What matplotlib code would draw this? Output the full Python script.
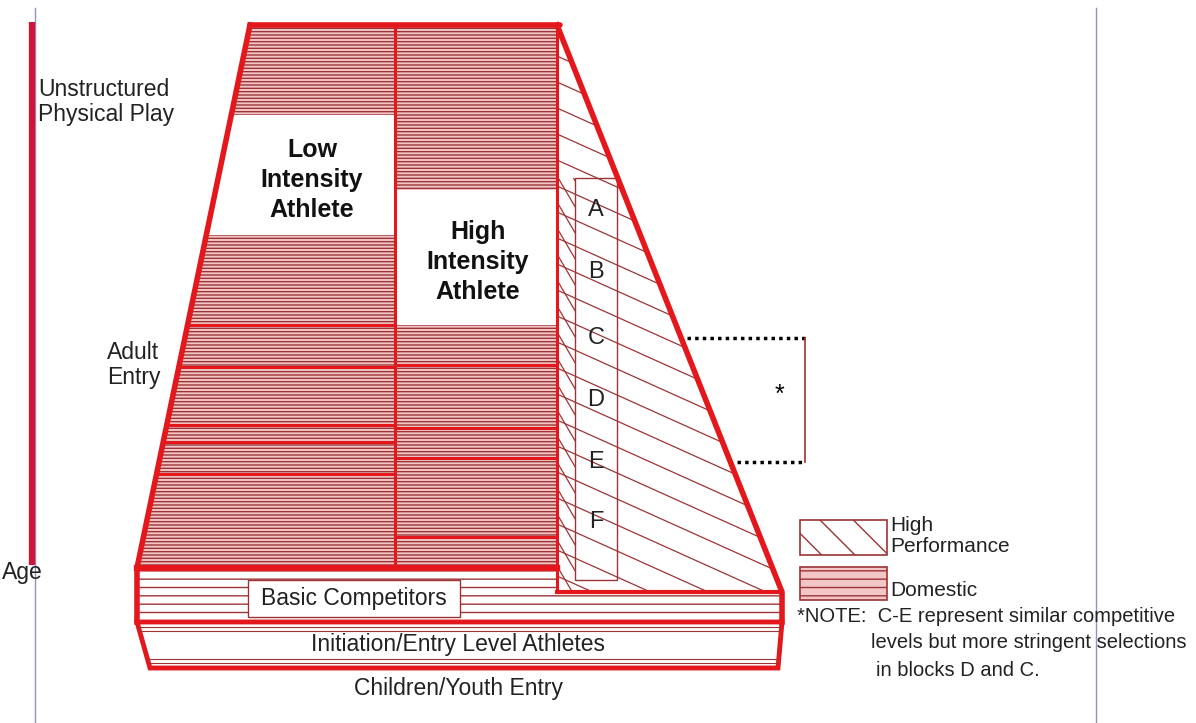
import matplotlib
matplotlib.use("Agg")
import matplotlib.pyplot as plt
from matplotlib.patches import Polygon, Rectangle

plt.rcParams['font.family'] = ['Liberation Sans', 'DejaVu Sans']
plt.rcParams['hatch.linewidth'] = 1.0

# labels of the diagram
side_labels = ["Unstructured\nPhysical Play", "Adult\nEntry", "Age"]
athlete_labels = ["Low\nIntensity\nAthlete", "High\nIntensity\nAthlete"]
grades = ["A", "B", "C", "D", "E", "F"]
tier_labels = ["Basic Competitors", "Initiation/Entry Level Athletes", "Children/Youth Entry"]
legend_labels = ["High\nPerformance", "Domestic"]
note_lines = ["*NOTE:  C-E represent similar competitive",
              "levels but more stringent selections",
              "in blocks D and C."]

RED = '#e3171c'
DARK = '#9c3436'
PINK = '#f2c6c6'
AXIS = '#8f93c4'

fig = plt.figure(figsize=(11.96, 7.23), dpi=100)
ax = fig.add_axes([0, 0, 1, 1])
ax.set_xlim(0, 1196)
ax.set_ylim(723, 0)
ax.axis('off')


def xl(y):
    # left slanted edge of the pyramid
    return 250 - 113 * (y - 25) / 543


# thin guide lines
ax.plot([35, 35], [8, 723], color=AXIS, lw=1)
ax.plot([1096, 1096], [8, 723], color=AXIS, lw=1)
ax.plot([32, 32], [22, 565], color='#d3123a', lw=4.5, solid_capstyle='butt')

# domestic block (horizontal hatch)
dom = Polygon([(250, 25), (557, 25), (557, 568), (137, 568)], closed=True,
              facecolor=PINK, edgecolor=DARK, lw=0, hatch='-----')
ax.add_patch(dom)

# white boxes for the athlete labels
ax.add_patch(Polygon([(xl(115), 115), (395, 115), (395, 235), (xl(235), 235)],
                     facecolor='white', edgecolor='none'))
ax.add_patch(Rectangle((395, 190), 162, 135, facecolor='white', edgecolor='none'))

# thicker red bands inside the domestic block
for y in [325, 367, 425, 442, 474]:
    ax.plot([xl(y), 395], [y, y], color=RED, lw=2.2)
for y in [365, 428, 458, 537]:
    ax.plot([395, 557], [y, y], color=RED, lw=2.2)

# high performance triangle (diagonal lines)
hp = Polygon([(557, 25), (782, 592), (557, 592)], closed=True,
             facecolor='white', edgecolor='none')
ax.add_patch(hp)
for y0 in range(30, 620, 26):
    ln, = ax.plot([557, 790], [y0, y0 + 0.45 * 233], color=DARK, lw=0.9)
    ln.set_clip_path(hp)
strip = Rectangle((557, 178), 18, 414, facecolor='none', edgecolor='none')
ax.add_patch(strip)
for y0 in range(150, 600, 26):
    ln, = ax.plot([557, 575], [y0, y0 + 1.7 * 18], color=DARK, lw=0.9)
    ln.set_clip_path(strip)

# grade column
ax.add_patch(Rectangle((575, 178), 42, 402, facecolor='white', edgecolor=DARK, lw=1))
for g, y in zip(grades, [210, 272, 338, 400, 462, 522]):
    ax.text(596, y, g, fontsize=17, ha='center', va='center', color='#222222')

# basic competitors band
basic = Polygon([(137, 570), (557, 570), (557, 592), (782, 592), (782, 622), (137, 622)],
                closed=True, facecolor='white', edgecolor=DARK, lw=0, hatch='--')
ax.add_patch(basic)
ax.add_patch(Rectangle((248, 580), 212, 37, facecolor='white', edgecolor=DARK, lw=1))
ax.text(354, 599, tier_labels[0], fontsize=16.5, ha='center', va='center', color='#222222')

# initiation band
init = Polygon([(137, 622), (782, 622), (778, 668), (150, 668)], closed=True,
               facecolor='white', edgecolor='none')
ax.add_patch(init)
for y in [627, 631, 659, 663]:
    ln, = ax.plot([130, 790], [y, y], color=DARK, lw=0.8)
    ln.set_clip_path(init)
ax.add_patch(Polygon([(137, 622), (782, 622), (778, 668), (150, 668)], closed=True,
                     facecolor='none', edgecolor=RED, lw=3.5))
ax.text(458, 645, tier_labels[1], fontsize=16.5, ha='center', va='center', color='#222222')
ax.text(458, 688, tier_labels[2], fontsize=16.5, ha='center', va='center', color='#222222')

# outlines
ax.plot([250, 560], [25, 25], color=RED, lw=4, solid_capstyle='round')
ax.plot([250, 137, 137], [25, 568, 622], color=RED, lw=4)
ax.plot([557, 782, 782], [25, 592, 622], color=RED, lw=4)
ax.plot([137, 557], [568, 568], color=RED, lw=4.5)
ax.plot([557, 782], [592, 592], color=RED, lw=3)
ax.plot([395, 395], [25, 568], color=RED, lw=2.2)
ax.plot([557, 557], [25, 592], color=RED, lw=2.2)

# athlete labels
ax.text(312, 180, athlete_labels[0], fontsize=18, fontweight='bold', ha='center',
        va='center', linespacing=1.32, color='#111111')
ax.text(478, 262, athlete_labels[1], fontsize=18, fontweight='bold', ha='center',
        va='center', linespacing=1.32, color='#111111')

# side labels
ax.text(38, 102, side_labels[0], fontsize=16.5, ha='left', va='center',
        linespacing=1.15, color='#222222')
ax.text(107, 365, side_labels[1], fontsize=16.5, ha='left', va='center',
        linespacing=1.15, color='#222222')
ax.text(2, 573, side_labels[2], fontsize=16.5, ha='left', va='center', color='#222222')

# dotted bracket
ax.plot([687, 805], [338, 338], color='black', lw=2.5, linestyle=(0, (1, 1.2)))
ax.plot([737, 805], [462, 462], color='black', lw=2.5, linestyle=(0, (1, 1.2)))
ax.plot([805, 805], [338, 462], color=DARK, lw=1.2)
ax.text(779, 395, '*', fontsize=18, ha='center', va='center')

# legend
ax.add_patch(Rectangle((800, 520), 87, 35, facecolor='white', edgecolor=DARK, lw=0, hatch='\\'))
ax.add_patch(Rectangle((800, 520), 87, 35, facecolor='none', edgecolor=DARK, lw=1.2))
ax.add_patch(Rectangle((800, 567), 87, 33, facecolor=PINK, edgecolor=DARK, lw=0, hatch='--'))
ax.add_patch(Rectangle((800, 567), 87, 33, facecolor='none', edgecolor=DARK, lw=1.2))
ax.text(890, 536, legend_labels[0], fontsize=15, ha='left', va='center',
        linespacing=1.1, color='#222222')
ax.text(890, 590, legend_labels[1], fontsize=15, ha='left', va='center', color='#222222')
ax.text(797, 617, note_lines[0], fontsize=14.5, ha='left', va='center', color='#222222')
ax.text(871, 643, note_lines[1], fontsize=14.5, ha='left', va='center', color='#222222')
ax.text(876, 670, note_lines[2], fontsize=14.5, ha='left', va='center', color='#222222')

fig.savefig('out.png', dpi=100)
